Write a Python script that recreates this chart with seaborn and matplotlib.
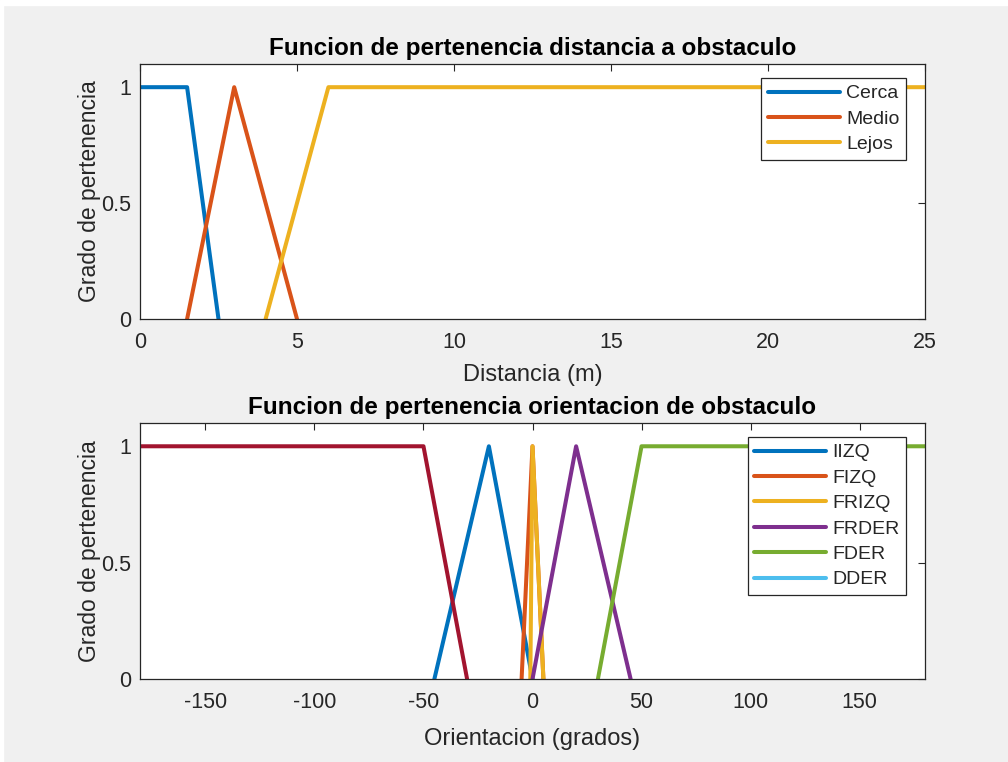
import numpy as np
import pandas as pd
import seaborn as sns
import matplotlib
matplotlib.use("Agg")
import matplotlib.pyplot as plt
from matplotlib.patches import Rectangle

# ---- data (top: distance membership functions) ----
dist_names = ["Cerca", "Medio", "Lejos"]
cerca_x = [0, 1.5, 2.5]
cerca_y = [1, 1, 0]
medio_x = [1.5, 3, 5]
medio_y = [0, 1, 0]
lejos_x = [4, 6, 25]
lejos_y = [0, 1, 1]

# ---- data (bottom: orientation membership functions) ----
ori_names = ["IIZQ", "FIZQ", "FRIZQ", "FRDER", "FDER", "DDER", "IZQ"]
iizq_x = [-45, -20, 0]
iizq_y = [0, 1, 0]
fizq_x = [-5, 0, 5]
fizq_y = [0, 1, 0]
frizq_x = [-1, 0, 5]
frizq_y = [0, 1, 0]
frder_x = [0, 20, 45]
frder_y = [0, 1, 0]
fder_x = [30, 50, 180]
fder_y = [0, 1, 1]
dder_x = [190, 200, 210]
dder_y = [0, 1, 1]
izq_x = [-180, -50, -30]
izq_y = [1, 1, 0]

matlab_colors = ["#0072BD", "#D95319", "#EDB120", "#7E2F8E", "#77AC30", "#4DBEEE", "#A2142F"]

def long_df(names, xs, ys):
    frames = []
    for n, x, y in zip(names, xs, ys):
        frames.append(pd.DataFrame({"x": x, "y": y, "serie": n, "order": range(len(x))}))
    return pd.concat(frames, ignore_index=True)

df_top = long_df(dist_names, [cerca_x, medio_x, lejos_x], [cerca_y, medio_y, lejos_y])
df_bot = long_df(ori_names,
                 [iizq_x, fizq_x, frizq_x, frder_x, fder_x, dder_x, izq_x],
                 [iizq_y, fizq_y, frizq_y, frder_y, fder_y, dder_y, izq_y])

sns.set_theme(style="white")
plt.rcParams["font.family"] = ["Liberation Sans", "DejaVu Sans"]
plt.rcParams["font.size"] = 15

fig = plt.figure(figsize=(10.08, 7.62), dpi=100, facecolor="#f0f0f0")
W, H = 1008, 762
# thin white border like the screenshot
fig.add_artist(Rectangle((0, 1 - 5 / H), 1, 5 / H, transform=fig.transFigure, color="white", zorder=-1))
fig.add_artist(Rectangle((0, 0), 3 / W, 1, transform=fig.transFigure, color="white", zorder=-1))

def axes_box(l, t, r, b):
    return [l / W, 1 - b / H, (r - l) / W, (b - t) / H]

ax1 = fig.add_axes(axes_box(140, 64, 925, 319))
ax2 = fig.add_axes(axes_box(140, 423, 925, 679))

lw = 2.9
sns.lineplot(data=df_top, x="x", y="y", hue="serie", hue_order=dist_names,
             palette=matlab_colors[:3], estimator=None, sort=False, units="serie",
             linewidth=lw, ax=ax1, legend=False)
sns.lineplot(data=df_bot, x="x", y="y", hue="serie", hue_order=ori_names,
             palette=matlab_colors, estimator=None, sort=False, units="serie",
             linewidth=lw, ax=ax2, legend=False)

def style(ax, xlim, xticks, title, xlabel, xlabelpad):
    ax.set_facecolor("white")
    ax.set_xlim(*xlim)
    ax.set_ylim(0, 1.1)
    ax.set_xticks(xticks)
    ax.set_xticklabels([str(t) for t in xticks])
    ax.set_yticks([0, 0.5, 1])
    ax.set_yticklabels(["0", "0.5", "1"])
    ax.tick_params(direction="in", length=5, width=0.8, top=True, right=True,
                   labelsize=15.5, colors="#262626")
    ax.tick_params(axis="x", pad=9)
    ax.tick_params(axis="y", pad=6.5)
    for s in ax.spines.values():
        s.set_color("#262626")
        s.set_linewidth(0.9)
        s.set_visible(True)
    ax.set_title(title, fontsize=17.5, fontweight="bold", color="black", pad=6.5)
    ax.set_xlabel(xlabel, fontsize=17, color="#262626", labelpad=xlabelpad)
    ax.set_ylabel("Grado de pertenencia", fontsize=16.5, color="#262626", labelpad=0)

style(ax1, (0, 25), [0, 5, 10, 15, 20, 25],
      "Funcion de pertenencia distancia a obstaculo", "Distancia (m)", 8)
style(ax2, (-180, 180), [-150, -100, -50, 0, 50, 100, 150],
      "Funcion de pertenencia orientacion de obstaculo", "Orientacion (grados)", 11)

def add_legend(ax, n, labels):
    handles = ax.get_lines()[:n]
    leg = ax.legend(handles, labels[:n], loc="upper right", bbox_to_anchor=(0.976, 0.945),
                    borderaxespad=0, frameon=True, fancybox=False, framealpha=1,
                    edgecolor="#262626", fontsize=14, handlelength=3.7,
                    handletextpad=0.3, labelspacing=0.4, borderpad=0.35)
    leg.get_frame().set_linewidth(0.9)
    return leg

add_legend(ax1, 3, dist_names)
add_legend(ax2, 6, ori_names)

fig.savefig("out.png", dpi=100, facecolor=fig.get_facecolor())
